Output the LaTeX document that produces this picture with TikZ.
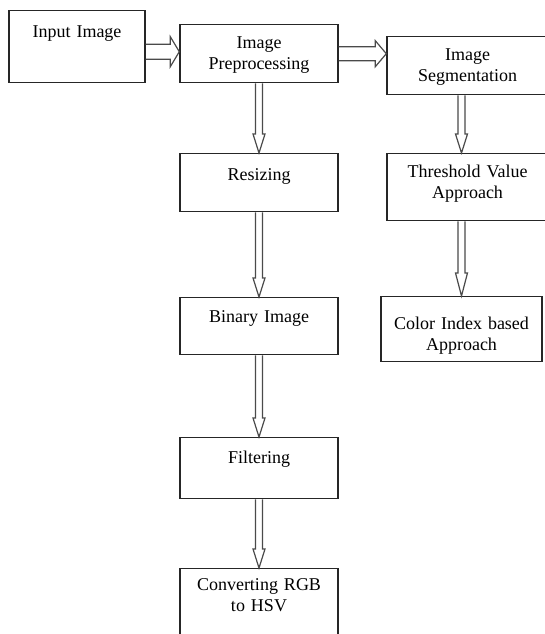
\documentclass[tikz,border=0pt]{standalone}
\usepackage{fontspec}
\setmainfont{Liberation Serif}
\usetikzlibrary{calc}
\definecolor{boxline}{HTML}{262626}
\definecolor{pipeline}{HTML}{4A4A4A}

\begin{document}
\begin{tikzpicture}[x=1pt,y=-1pt,
  stage/.style={draw=boxline,line width=1.4pt,anchor=north,inner sep=0pt,align=center,font=\fontsize{18}{21}\selectfont},
  pipeshaft/.store in=\pipeshaft,pipehead/.store in=\pipehead,pipetip/.store in=\pipetip,
  pipeshaft=3.5,pipehead=6,pipetip=19,
  pipe/.style={draw=pipeline,line width=1.2pt,line join=miter,to path={let \p1=($(\tikztotarget)!\pipetip pt!(\tikztostart)$) in
    ($(\tikztostart)!\pipeshaft pt!90:(\tikztotarget)$) -- ($(\p1)!\pipeshaft pt!90:(\tikztotarget)$)
    -- ($(\p1)!\pipehead pt!90:(\tikztotarget)$) -- (\tikztotarget)
    -- ($(\p1)!\pipehead pt!-90:(\tikztotarget)$) -- ($(\p1)!\pipeshaft pt!-90:(\tikztotarget)$)
    -- ($(\tikztostart)!\pipeshaft pt!-90:(\tikztotarget)$)}}]
\useasboundingbox (0,0) rectangle (545,634);

\node[stage,text width=136pt,text height=27pt,text depth=45pt] (input) at (77,10) {Input Image};
\node[stage,text width=158pt,text height=24pt,text depth=34pt] (preproc) at (259,24) {Image\\Preprocessing};
\node[stage,text width=161pt,text height=24pt,text depth=34pt] (segment) at (467.5,36) {Image\\Segmentation};
\node[stage,text width=158pt,text height=27pt,text depth=31pt] (resize) at (259,153) {Resizing};
\node[stage,text width=158pt,text height=25pt,text depth=32pt] (binary) at (259,297) {Binary Image};
\node[stage,text width=158pt,text height=26pt,text depth=35pt] (filter) at (259,437) {Filtering};
\node[stage,text width=158pt,text height=22pt,text depth=80pt] (convert) at (259,568) {Converting RGB\\to HSV};
\node[stage,text width=161pt,text height=24pt,text depth=43pt] (thresh) at (467.5,153) {Threshold Value\\Approach};
\node[stage,text width=161pt,text height=33pt,text depth=32pt] (colorix) at (461.5,296) {Color Index based\\Approach};

\coordinate (inout) at ([yshift=-5pt]input.east);
\coordinate (prein) at (inout -| preproc.west);
\coordinate (segout) at (segment.south -| colorix.north);
\coordinate (thrin) at (thresh.north -| colorix.north);
\coordinate (throut) at (thresh.south -| colorix.north);

\draw[pipe,pipeshaft=7.5,pipehead=15,pipetip=9] (inout) to (prein);
\draw[pipe,pipeshaft=7,pipehead=13,pipetip=11] (preproc.east) to (preproc.east -| segment.west);
\draw[pipe] (preproc.south) to (resize.north);
\draw[pipe] (resize.south) to (binary.north);
\draw[pipe] (binary.south) to (filter.north);
\draw[pipe] (filter.south) to (convert.north);
\draw[pipe] (segout) to (thrin);
\draw[pipe,pipetip=23] (throut) to (colorix.north);
\end{tikzpicture}
\end{document}
